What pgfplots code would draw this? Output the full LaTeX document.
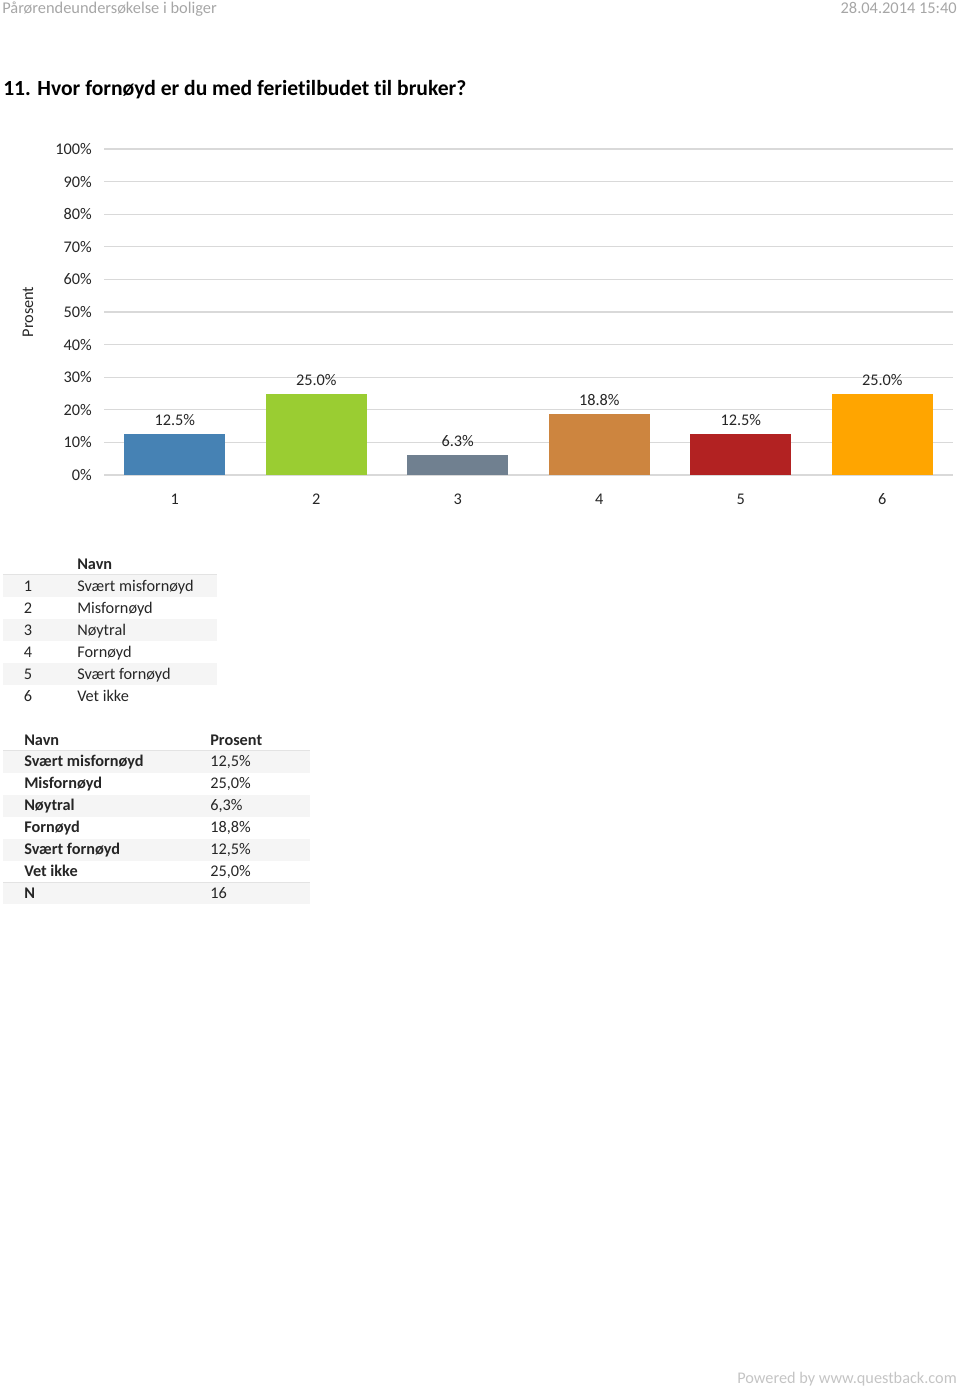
\documentclass[border=0pt]{standalone}
\usepackage{pgfplots}
\pgfplotsset{compat=1.18}
\usepackage{fontspec}
\setmainfont{Carlito}[Ligatures=NoCommon]
\definecolor{c1}{HTML}{4682B4}
\definecolor{c2}{HTML}{9ACD32}
\definecolor{c3}{HTML}{708090}
\definecolor{c4}{HTML}{CD853F}
\definecolor{c5}{HTML}{B22222}
\definecolor{c6}{HTML}{FFA500}
\definecolor{gridc}{HTML}{D9D9D9}
\definecolor{hdr}{HTML}{A6A6A6}
\definecolor{foot}{HTML}{C4C4C4}
\definecolor{txt}{HTML}{262626}
\definecolor{rowshade}{HTML}{F5F5F5}
\definecolor{rulec}{HTML}{E3E3E3}
\newcommand{\tf}{\fontsize{12.2}{14}\selectfont}
\begin{document}
\begin{tikzpicture}[x=0.75pt,y=0.75pt]
\path[use as bounding box] (0,0) rectangle (960,-1387);
% header
\node[anchor=base west, text=hdr, font=\fontsize{12.3}{14}\selectfont, inner sep=0] at (2,-14) {Pårørendeundersøkelse i boliger};
\node[anchor=base east, text=hdr, font=\fontsize{12.3}{14}\selectfont, inner sep=0] at (957,-14) {28.04.2014 15:40};
\node[anchor=base west, font=\bfseries\fontsize{16.2}{19}\selectfont, inner sep=0] at (3,-96) {11. Hvor fornøyd er du med ferietilbudet til bruker?};

% table 1
\fill[rowshade] (3,-575) rectangle (217,-597);
\fill[rowshade] (3,-619) rectangle (217,-641);
\fill[rowshade] (3,-663) rectangle (217,-685);
\draw[rulec, line width=0.75pt] (3,-574.5) -- (217,-574.5);
\begin{scope}[every node/.style={inner sep=0, font=\tf, text=txt}]
\node[anchor=base west, font=\tf\bfseries] at (77,-569) {Navn};
\foreach \i/\t [count=\k from 0] in {1/Svært misfornøyd,2/Misfornøyd,3/Nøytral,4/Fornøyd,5/Svært fornøyd,6/Vet ikke}{
  \node[anchor=base] at (28,-591-22*\k) {\i};
  \node[anchor=base west] at (77,-591-22*\k) {\t};
}
\end{scope}

% table 2
\fill[rowshade] (3,-751) rectangle (310,-773);
\fill[rowshade] (3,-795) rectangle (310,-817);
\fill[rowshade] (3,-839) rectangle (310,-861);
\fill[rowshade] (3,-883) rectangle (310,-904);
\draw[rulec, line width=0.75pt] (3,-750) -- (310,-750);
\draw[rulec, line width=0.75pt] (3,-882) -- (310,-882);
\begin{scope}[every node/.style={inner sep=0, font=\tf, text=txt}]
\node[anchor=base west, font=\tf\bfseries] at (24,-745) {Navn};
\node[anchor=base west, font=\tf\bfseries] at (210,-745) {Prosent};
\foreach \n/\p [count=\k from 1] in {Svært misfornøyd/{12,5\%},Misfornøyd/{25,0\%},Nøytral/{6,3\%},Fornøyd/{18,8\%},Svært fornøyd/{12,5\%},Vet ikke/{25,0\%},N/16}{
  \node[anchor=base west, font=\tf\bfseries] at (24,-745-21.9*\k) {\n};
  \node[anchor=base west] at (210,-745-21.9*\k) {\p};
}
\end{scope}

% footer
\node[anchor=base east, text=foot, font=\fontsize{12.2}{14}\selectfont, inner sep=0] at (957,-1383) {Powered by www.questback.com};

\begin{axis}[
  at={(78pt,-356.25pt)}, anchor=south west,
  x=, y=,
  scale only axis, width=636.75pt, height=244.5pt,
  xmin=0.5, xmax=6.5, ymin=0, ymax=100,
  ytick={0,10,...,100}, xtick={1,...,6},
  /pgf/number format/assume math mode=true,
  yticklabel={\pgfmathprintnumber{\tick}\%},
  ymajorgrids, grid style={gridc, line width=0.9pt},
  axis line style={draw=none},
  major tick length=0pt,
  tick label style={font=\tf, text=txt},
  xticklabel style={anchor=center, yshift=-18pt},
  yticklabel style={anchor=east, inner sep=0pt, xshift=-9pt},
  ylabel={Prosent},
  ylabel style={at={(rel axis cs:-0.0895,0.5)}, anchor=center, font=\tf, text=txt},
  ybar, bar width=75.75pt,
  point meta=explicit symbolic,
  nodes near coords,
  every node near coord/.append style={inner sep=0pt, yshift=6pt, font=\tf, text=txt},
]
\addplot[fill=c1, draw=none, bar shift=0pt] coordinates {(1,12.5) [12.5\%]};
\addplot[fill=c2, draw=none, bar shift=0pt] coordinates {(2,25.0) [25.0\%]};
\addplot[fill=c3, draw=none, bar shift=0pt] coordinates {(3,6.25) [6.3\%]};
\addplot[fill=c4, draw=none, bar shift=0pt] coordinates {(4,18.75) [18.8\%]};
\addplot[fill=c5, draw=none, bar shift=0pt] coordinates {(5,12.5) [12.5\%]};
\addplot[fill=c6, draw=none, bar shift=0pt] coordinates {(6,25.0) [25.0\%]};
\end{axis}
\end{tikzpicture}
\end{document}
